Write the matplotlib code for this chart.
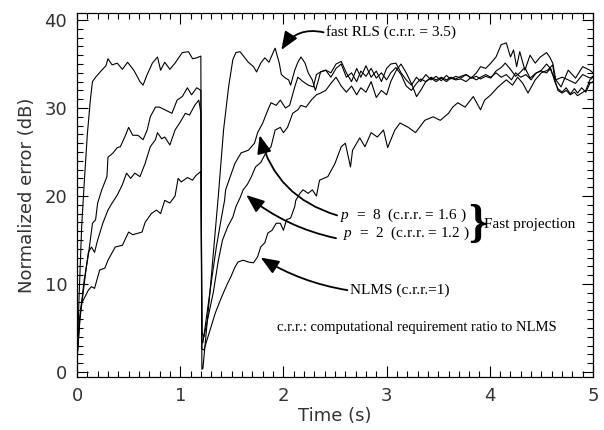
import matplotlib

matplotlib.use("Agg")

import matplotlib.pyplot as plt
from matplotlib.ticker import MultipleLocator

# curves: time (s) and normalized error (dB)
rls_t = [0, 0.02, 0.045, 0.07, 0.10, 0.13, 0.15, 0.18, 0.24, 0.28, 0.30, 0.34, 0.39, 0.44,
         0.49, 0.55, 0.61, 0.64, 0.68, 0.73, 0.78, 0.81, 0.85, 0.90, 0.95, 1.02, 1.08, 1.12,
         1.16, 1.20, 1.21, 1.22, 1.29, 1.37, 1.42, 1.47, 1.51, 1.54, 1.58, 1.62, 1.66, 1.71,
         1.74, 1.78, 1.82, 1.86, 1.90, 1.92, 1.96, 1.98, 2.02, 2.05, 2.07, 2.11, 2.14, 2.17,
         2.21, 2.24, 2.28, 2.31, 2.34, 2.36, 2.41, 2.46, 2.51, 2.56, 2.61, 2.66, 2.71, 2.75,
         2.80, 2.85, 2.90, 2.95, 3.00, 3.04, 3.09, 3.14, 3.19, 3.24, 3.29, 3.33, 3.38, 3.43,
         3.48, 3.53, 3.58, 3.62, 3.67, 3.72, 3.77, 3.82, 3.87, 3.91, 3.96, 4.01, 4.06, 4.11,
         4.16, 4.20, 4.23, 4.26, 4.29, 4.34, 4.39, 4.44, 4.49, 4.55, 4.58, 4.61, 4.64, 4.69,
         4.76, 4.83, 4.90, 4.97, 5.00]
rls_db = [1.4, 8.5, 16.5, 21.5, 27.0, 31.0, 33.0, 33.5, 34.3, 34.8, 35.6, 34.9, 35.1, 34.4,
          35.2, 34.3, 33.0, 32.6, 33.8, 35.1, 35.8, 34.3, 35.2, 34.4, 35.1, 36.3, 36.4, 35.6,
          35.7, 35.9, 0.3, 0.4, 9.3, 20.1, 27.5, 32.5, 35.5, 36.3, 36.4, 35.8, 35.2, 34.7,
          34.1, 35.1, 35.7, 35.2, 36.3, 36.8, 35.1, 33.8, 33.4, 33.2, 32.6, 34.3, 35.2, 35.8,
          35.1, 34.0, 33.2, 32.0, 33.2, 34.1, 34.3, 34.0, 35.0, 35.3, 34.0, 33.0, 34.5, 33.5,
          34.8, 33.5, 34.2, 33.0, 34.5, 35.0, 35.1, 34.0, 33.2, 32.6, 33.5, 33.0, 33.8, 33.2,
          33.6, 33.1, 33.7, 33.3, 33.6, 33.4, 33.8, 33.4, 34.0, 34.7, 34.5, 35.1, 35.8, 37.2,
          37.4, 35.8, 36.6, 34.7, 36.4, 34.3, 36.0, 35.1, 35.8, 36.3, 35.8, 35.1, 33.2, 32.4,
          34.3, 33.4, 34.7, 34.3, 34.0]

p8_t = [0, 0.03, 0.07, 0.11, 0.15, 0.18, 0.20, 0.24, 0.29, 0.30, 0.35, 0.39, 0.42, 0.47,
        0.50, 0.54, 0.59, 0.64, 0.68, 0.71, 0.76, 0.80, 0.85, 0.92, 0.97, 1.02, 1.07, 1.11,
        1.16, 1.20, 1.21, 1.22, 1.30, 1.35, 1.40, 1.43, 1.44, 1.53, 1.59, 1.66, 1.72, 1.75,
        1.80, 1.85, 1.88, 1.93, 1.97, 2.02, 2.06, 2.11, 2.14, 2.19, 2.24, 2.29, 2.32, 2.36,
        2.41, 2.46, 2.51, 2.56, 2.61, 2.66, 2.71, 2.75, 2.80, 2.85, 2.90, 2.95, 3.00, 3.04,
        3.09, 3.14, 3.19, 3.24, 3.29, 3.33, 3.38, 3.43, 3.48, 3.53, 3.58, 3.62, 3.67, 3.72,
        3.77, 3.82, 3.87, 3.91, 3.96, 4.01, 4.06, 4.11, 4.15, 4.20, 4.25, 4.29, 4.34, 4.39,
        4.44, 4.50, 4.55, 4.58, 4.61, 4.64, 4.70, 4.76, 4.83, 4.90, 4.97, 5.00]
p8_db = [1.4, 6.5, 10.5, 13.3, 16.9, 17.3, 19.2, 20.7, 22.2, 24.4, 24.9, 25.5, 25.6, 26.9,
         27.8, 26.9, 26.9, 26.4, 27.5, 29.0, 30.1, 30.1, 29.8, 29.4, 30.9, 31.3, 32.3, 31.5,
         32.3, 32.0, 3.5, 3.3, 10.1, 14.2, 17.6, 19.5, 20.7, 23.7, 24.9, 25.2, 26.0, 27.2,
         28.3, 29.8, 30.6, 30.3, 30.9, 30.0, 30.3, 32.4, 33.5, 33.0, 32.6, 32.4, 33.8, 34.1,
         34.3, 33.5, 34.5, 35.0, 33.5, 34.0, 33.0, 34.2, 33.6, 34.5, 33.4, 34.0, 33.2, 34.0,
         34.6, 33.8, 32.5, 32.0, 32.8, 33.3, 33.0, 33.5, 33.2, 33.5, 33.2, 33.5, 33.3, 33.6,
         33.8, 33.4, 33.6, 33.3, 33.6, 33.4, 34.2, 34.6, 35.1, 34.4, 33.6, 34.0, 34.6, 33.4,
         33.9, 34.3, 35.0, 34.6, 33.8, 33.2, 33.5, 33.2, 32.8, 33.8, 33.4, 33.6]

p2_t = [0, 0.03, 0.07, 0.09, 0.11, 0.14, 0.17, 0.20, 0.25, 0.30, 0.34, 0.39, 0.44, 0.48,
        0.52, 0.56, 0.61, 0.66, 0.71, 0.76, 0.78, 0.82, 0.85, 0.90, 0.95, 1.00, 1.05, 1.09,
        1.14, 1.18, 1.20, 1.21, 1.23, 1.32, 1.37, 1.41, 1.46, 1.51, 1.54, 1.58, 1.61, 1.65,
        1.69, 1.73, 1.78, 1.83, 1.88, 1.92, 1.97, 2.00, 2.04, 2.09, 2.14, 2.17, 2.22, 2.27,
        2.32, 2.36, 2.41, 2.46, 2.51, 2.56, 2.61, 2.66, 2.71, 2.75, 2.80, 2.85, 2.90, 2.95,
        3.00, 3.04, 3.09, 3.14, 3.19, 3.24, 3.29, 3.33, 3.38, 3.43, 3.48, 3.53, 3.58, 3.62,
        3.67, 3.72, 3.77, 3.82, 3.87, 3.91, 3.96, 4.01, 4.06, 4.11, 4.16, 4.21, 4.25, 4.30,
        4.35, 4.40, 4.45, 4.50, 4.55, 4.59, 4.63, 4.66, 4.70, 4.74, 4.78, 4.82, 4.85, 4.89,
        4.93, 4.97, 5.00]
p2_db = [1.4, 6.2, 10.0, 11.9, 13.6, 14.2, 13.6, 15.0, 16.9, 18.4, 19.2, 20.1, 21.3, 22.6,
         22.0, 22.6, 22.2, 23.7, 25.6, 26.4, 27.2, 26.5, 26.7, 25.8, 27.5, 28.4, 29.4, 29.2,
         30.3, 30.9, 29.5, 4.5, 4.0, 9.0, 12.7, 15.0, 16.5, 17.6, 18.8, 19.8, 20.7, 21.3,
         22.2, 23.3, 23.8, 24.9, 25.6, 27.5, 27.8, 27.2, 27.8, 29.4, 29.8, 30.3, 30.1, 30.9,
         31.5, 31.7, 32.0, 32.8, 33.5, 32.5, 31.8, 32.5, 31.5, 32.3, 31.8, 33.0, 31.2, 32.0,
         31.5, 33.0, 34.2, 35.0, 34.0, 32.8, 31.3, 32.0, 33.0, 33.4, 33.0, 33.4, 33.0, 33.4,
         33.2, 33.3, 33.0, 33.5, 33.2, 33.5, 33.8, 33.5, 34.0, 33.5, 33.8, 33.2, 34.0, 33.5,
         33.8, 33.2, 34.0, 34.2, 34.0, 34.5, 33.0, 32.2, 31.8, 32.3, 31.6, 32.2, 31.7, 32.3,
         31.8, 32.8, 33.0]

nlms_t = [0, 0.02, 0.045, 0.11, 0.14, 0.17, 0.22, 0.27, 0.30, 0.37, 0.44, 0.50, 0.54, 0.63,
          0.66, 0.72, 0.77, 0.81, 0.85, 0.90, 0.95, 0.98, 1.01, 1.07, 1.12, 1.15, 1.20, 1.21,
          1.23, 1.29, 1.34, 1.39, 1.43, 1.46, 1.49, 1.53, 1.56, 1.61, 1.66, 1.71, 1.75, 1.78,
          1.82, 1.85, 1.89, 1.93, 1.97, 2.00, 2.03, 2.07, 2.11, 2.12, 2.16, 2.19, 2.24, 2.28,
          2.32, 2.35, 2.43, 2.50, 2.56, 2.60, 2.65, 2.67, 2.74, 2.79, 2.85, 2.91, 2.97, 3.01,
          3.08, 3.13, 3.21, 3.28, 3.37, 3.45, 3.52, 3.60, 3.64, 3.69, 3.76, 3.84, 3.91, 3.95,
          4.01, 4.08, 4.16, 4.22, 4.27, 4.32, 4.37, 4.44, 4.50, 4.56, 4.61, 4.63, 4.66, 4.70,
          4.74, 4.78, 4.82, 4.85, 4.89, 4.93, 4.97, 5.00]
nlms_db = [1.4, 5.5, 7.8, 9.3, 9.7, 9.5, 11.6, 11.8, 12.7, 14.2, 14.4, 15.9, 15.6, 15.9,
           17.0, 18.0, 18.4, 18.0, 19.5, 19.2, 20.0, 22.0, 21.6, 22.1, 21.8, 22.3, 22.8, 2.6,
           2.5, 4.8, 6.7, 8.2, 9.3, 10.1, 10.8, 11.9, 12.5, 12.7, 12.5, 12.4, 13.1, 14.2,
           14.7, 15.8, 16.1, 16.9, 16.9, 16.1, 17.3, 17.5, 18.8, 19.5, 20.3, 20.7, 20.3, 20.7,
           20.0, 21.8, 22.2, 23.7, 25.6, 26.0, 23.3, 25.2, 26.6, 25.6, 27.2, 26.7, 27.5, 25.5,
           27.5, 28.3, 27.8, 27.2, 28.6, 29.0, 28.6, 29.4, 30.1, 30.6, 30.1, 31.3, 29.8, 30.9,
           31.5, 32.4, 33.2, 32.6, 33.5, 32.8, 31.7, 33.2, 34.0, 34.3, 34.9, 33.2, 32.0, 31.7,
           32.0, 31.5, 31.8, 31.4, 31.7, 32.0, 33.2, 33.5]

x_ticks = [0, 1, 2, 3, 4, 5]
y_ticks = [0, 10, 20, 30, 40]

serif = "Liberation Serif"
plt.rcParams["mathtext.fontset"] = "custom"
plt.rcParams["mathtext.it"] = "Liberation Serif:italic"
plt.rcParams["mathtext.rm"] = "Liberation Serif"

fig = plt.figure(figsize=(6.04, 4.30), dpi=100)
ax = fig.add_axes([0.1275, 0.1233, 0.8543, 0.8465])

for t, db in [(rls_t, rls_db), (p8_t, p8_db), (p2_t, p2_db), (nlms_t, nlms_db)]:
    ax.plot(t, db, color="black", lw=0.8)

ax.set_xlim(0, 5)
ax.set_ylim(-0.57, 40.8)
ax.set_xticks(x_ticks)
ax.set_yticks(y_ticks)
ax.xaxis.set_minor_locator(MultipleLocator(0.1))
ax.yaxis.set_minor_locator(MultipleLocator(1))
ax.tick_params(which="both", direction="in", top=True, right=True, width=0.8)
ax.tick_params(which="major", length=8, labelsize=13, pad=7, labelcolor="#333333")
ax.tick_params(which="minor", length=4)
for sp in ax.spines.values():
    sp.set_linewidth(0.9)

ax.set_xlabel("Time (s)", fontsize=13, color="#333333", labelpad=2)
ax.set_ylabel("Normalized error (dB)", fontsize=13, color="#333333", labelpad=6)

# annotations
arrow = dict(arrowstyle="-|>,head_length=0.55,head_width=0.22", color="black", lw=1.3,
             shrinkA=0, shrinkB=0, mutation_scale=20)
ax.annotate("", xy=(1.98, 36.6), xytext=(2.39, 38.6),
            arrowprops=dict(arrow, connectionstyle="arc3,rad=0.35"))
ax.annotate("", xy=(1.77, 26.9), xytext=(2.52, 17.8),
            arrowprops=dict(arrow, connectionstyle="arc3,rad=-0.28"))
ax.annotate("", xy=(1.64, 20.1), xytext=(2.51, 15.2),
            arrowprops=dict(arrow, connectionstyle="arc3,rad=-0.12"))
ax.annotate("", xy=(1.78, 13.0), xytext=(2.62, 9.3),
            arrowprops=dict(arrow, connectionstyle="arc3,rad=-0.1"))

txt = dict(family=serif, fontsize=11, va="center")
ax.text(2.41, 38.6, "fast RLS (c.r.r. = 3.5)", **txt)
ax.text(2.55, 17.8, "$p$  =  8  (c.r.r. = 1.6 )", **txt)
ax.text(2.58, 15.8, "$p$  =  2  (c.r.r. = 1.2 )", **txt)
ax.text(3.88, 16.7, "}", family=serif, fontsize=34, fontweight="bold", va="center",
        ha="center")
ax.text(3.94, 16.8, "Fast projection", **txt)
ax.text(2.65, 9.3, "NLMS (c.r.r.=1)", **txt)
ax.text(1.94, 5.1, "c.r.r.: computational requirement ratio to NLMS", family=serif,
        fontsize=10.5, va="center")

fig.savefig("out.png", dpi=100)
